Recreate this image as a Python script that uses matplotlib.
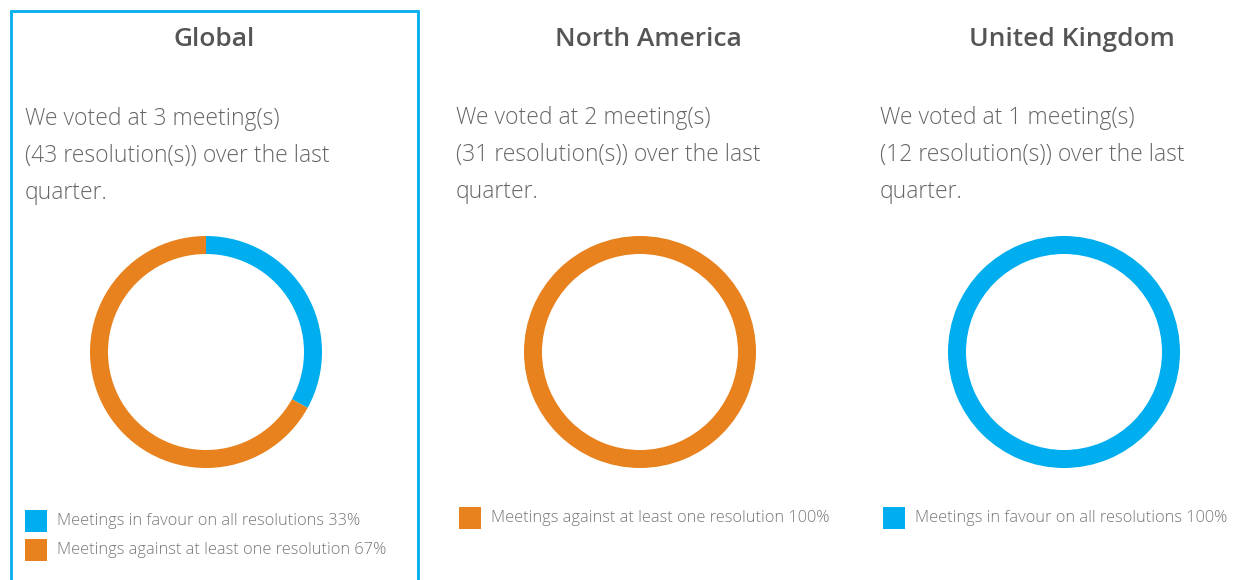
import matplotlib
matplotlib.use("Agg")
import matplotlib.pyplot as plt
from matplotlib.patches import Rectangle

W, H = 1236, 580
BLUE = "#00AEEF"
ORANGE = "#E8821E"

regions = ["Global", "North America", "United Kingdom"]
meetings = [3, 2, 1]
resolutions = [43, 31, 12]
favour_pct = [33, 0, 100]
against_pct = [67, 100, 0]
label_favour = "Meetings in favour on all resolutions"
label_against = "Meetings against at least one resolution"

plt.rcParams['font.family'] = ['Open Sans', 'DejaVu Sans']

fig = plt.figure(figsize=(W / 100, H / 100), dpi=100)
fig.patch.set_facecolor("white")

def fx(x):
    return x / W

def fy(y):
    return 1 - y / H

panel_x = [0, 431, 855]      # panel offsets
centers = [206, 640, 1064]
title_cx = [214, 648, 1072]

# Global highlight box
fig.patches.append(Rectangle((fx(11), fy(600)), fx(407), (600 - 11) / H,
                             transform=fig.transFigure, fill=False,
                             edgecolor=BLUE, linewidth=2))

R = 116
for i, name in enumerate(regions):
    ox = panel_x[i]
    fig.text(fx(title_cx[i]), fy(39), name, ha="center", va="center",
             fontsize=19, fontweight="semibold", color="#555555")
    lines = [f"We voted at {meetings[i]} meeting(s)",
             f"({resolutions[i]} resolution(s)) over the last",
             "quarter."]
    for j, ln in enumerate(lines):
        fig.text(fx(ox + 25), fy(119 + j * 37 - (1 if i > 0 else 0)), ln,
                 ha="left", va="center", fontsize=16.5, fontweight="light",
                 color="#666666")

    cx = centers[i]
    cy = 352
    ax = fig.add_axes([fx(cx - R), fy(cy + R), 2 * R / W, 2 * R / H])
    vals, cols, labs = [], [], []
    if favour_pct[i] > 0:
        vals.append(favour_pct[i]); cols.append(BLUE)
        labs.append(f"{label_favour} {favour_pct[i]}%")
    if against_pct[i] > 0:
        vals.append(against_pct[i]); cols.append(ORANGE)
        labs.append(f"{label_against} {against_pct[i]}%")
    ax.pie(vals, colors=cols, startangle=90, counterclock=False, radius=1,
           wedgeprops=dict(width=18 / R, linewidth=0))
    ax.set_xlim(-1, 1)
    ax.set_ylim(-1, 1)
    ax.set_aspect("equal")
    ax.axis("off")

    # legend
    ly0 = 521 if i == 0 else 518
    for k, (c, lab) in enumerate(zip(cols, labs)):
        y = ly0 + k * 29
        fig.patches.append(Rectangle((fx(ox + 25 + (3 if i > 0 else 0)), fy(y + 11)),
                                     22 / W, 22 / H, transform=fig.transFigure,
                                     facecolor=c, edgecolor="none"))
        fig.text(fx(ox + 57 + (3 if i > 0 else 0)), fy(y), lab, ha="left",
                 va="center", fontsize=11.8, fontweight="light", color="#777777")

fig.savefig("out.png", dpi=100, facecolor="white")
